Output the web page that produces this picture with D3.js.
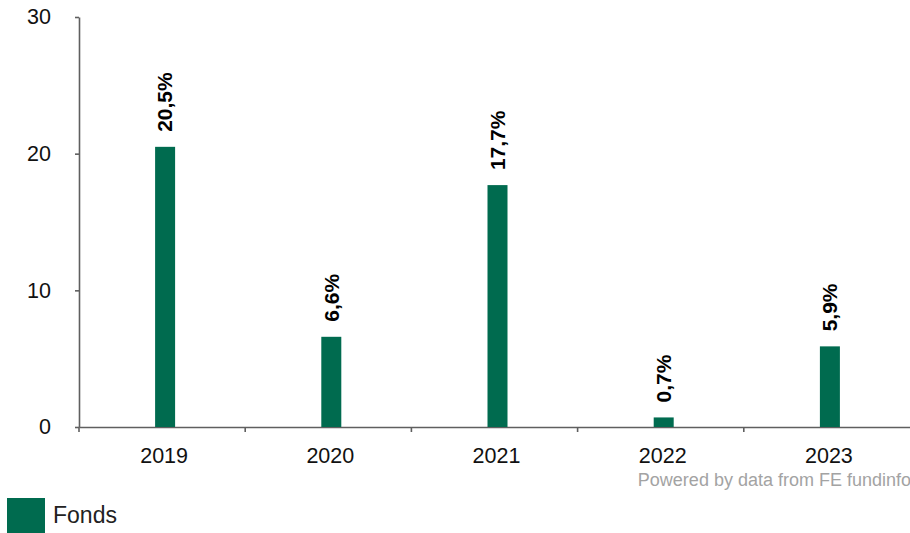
<!DOCTYPE html>
<html>
<head>
<meta charset="utf-8">
<script src="https://cdn.jsdelivr.net/npm/d3@7"></script>
<style>
  body { margin: 0; background: #fff; }
  svg { display: block; font-family: "Liberation Sans", Arial, sans-serif; }
</style>
</head>
<body>
<svg id="chart" width="910" height="533"></svg>
<script>
// chart data
const years = ['2019', '2020', '2021', '2022', '2023'];
const fonds = [20.5, 6.6, 17.7, 0.7, 5.9];
const valueLabels = ['20,5%', '6,6%', '17,7%', '0,7%', '5,9%'];
const yTicks = [0, 10, 20, 30];
const seriesName = 'Fonds';
const sourceNote = 'Powered by data from FE fundinfo';

const svg = d3.select('#chart');
const green = '#006b4f';
const axisColor = '#5f5f5f';

var x = d3.scaleBand().domain(years).range([79, 910]).padding(0);
var y = d3.scaleLinear().domain([0, 30]).range([427, 17]);
var barW = 20;

// y axis
var yAxis = svg.append('g')
    .attr('transform', 'translate(79,0)')
    .call(d3.axisLeft(y).tickValues(yTicks).tickSize(4).tickSizeOuter(0).tickPadding(24));
yAxis.select('.domain').attr('stroke', axisColor).attr('stroke-width', 1.6);
yAxis.selectAll('.tick line').attr('stroke', axisColor).attr('stroke-width', 1.6);
yAxis.selectAll('text').attr('font-size', 21.5).attr('fill', '#111');

// x axis: labels centred on bands, ticks on the band borders
var xAxis = svg.append('g')
    .attr('transform', 'translate(0,' + y(0) + ')')
    .call(d3.axisBottom(x).tickSize(0).tickSizeOuter(0).tickPadding(21));
xAxis.select('.domain').attr('stroke', axisColor).attr('stroke-width', 1.6);
xAxis.selectAll('text').attr('font-size', 21.5).attr('fill', '#111').attr('dx', 2);

svg.append('g').selectAll('line')
    .data(years)
    .join('line')
    .attr('x1', d => x(d)).attr('x2', d => x(d))
    .attr('y1', y(0)).attr('y2', y(0) + 5)
    .attr('stroke', axisColor).attr('stroke-width', 1.6);

// bars
svg.append('g').selectAll('rect')
    .data(fonds)
    .join('rect')
    .attr('x', (d, i) => x(years[i]) + x.bandwidth() / 2 + 3 - barW / 2)
    .attr('width', barW)
    .attr('y', d => y(d))
    .attr('height', d => y(0) - y(d))
    .attr('fill', green);

// value labels, rotated
svg.append('g').selectAll('text')
    .data(fonds)
    .join('text')
    .attr('transform', (d, i) => 'translate(' + (x(years[i]) + x.bandwidth() / 2 + 3) + ',' + (y(d) - 15) + ') rotate(-90)')
    .attr('dy', '0.35em')
    .attr('font-size', 21)
    .attr('font-weight', 'bold')
    .attr('fill', '#000')
    .text((d, i) => valueLabels[i]);

// source note
svg.append('text')
    .attr('x', 911).attr('y', 486)
    .attr('text-anchor', 'end')
    .attr('font-size', 18)
    .attr('fill', '#a3a3a3')
    .text(sourceNote);

// legend
svg.append('rect')
    .attr('x', 7).attr('y', 498)
    .attr('width', 38).attr('height', 38)
    .attr('fill', green);
svg.append('text')
    .attr('x', 53).attr('y', 523)
    .attr('font-size', 23)
    .attr('fill', '#222')
    .text(seriesName);
</script>
</body>
</html>
